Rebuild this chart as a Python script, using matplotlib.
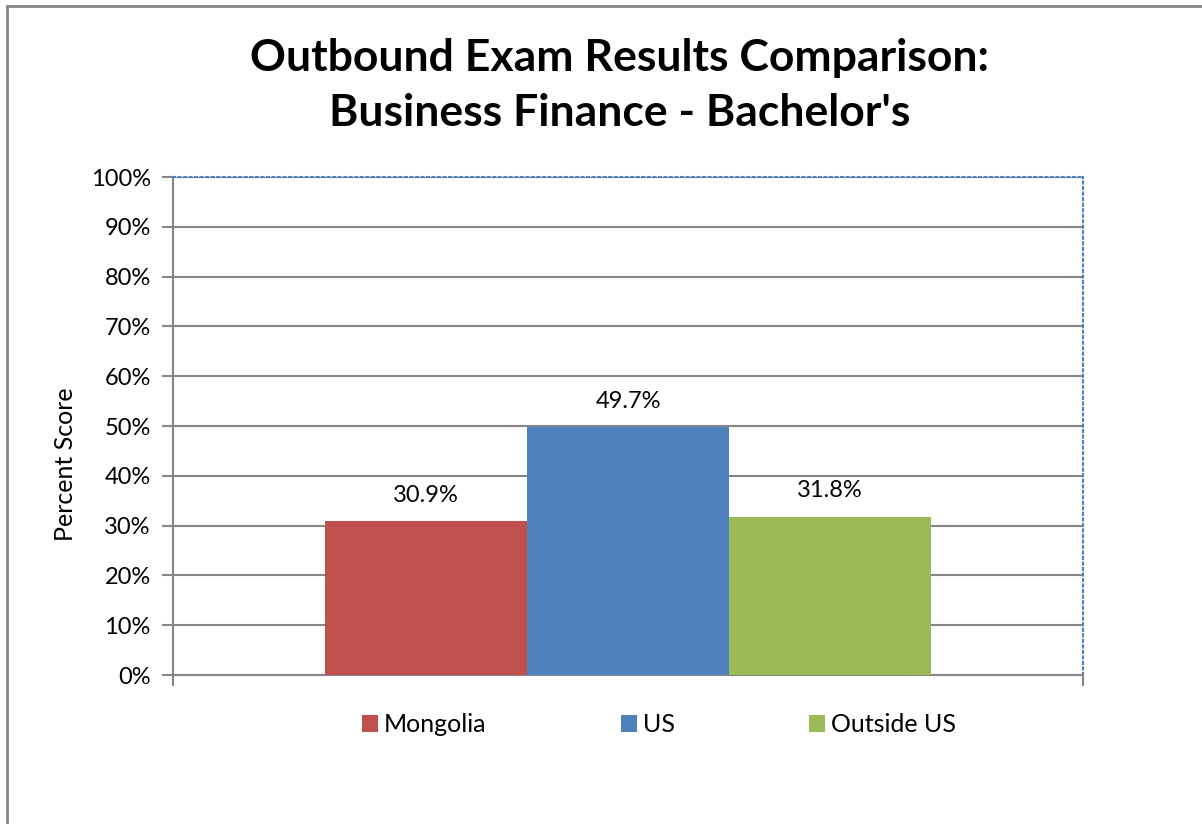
import matplotlib.pyplot as plt
from matplotlib.patches import Rectangle

# chart data
series = ["Mongolia", "US", "Outside US"]
scores = [30.9, 49.7, 31.8]
colors = ["#C0504D", "#4F81BD", "#9BBB59"]
yticks = [0, 10, 20, 30, 40, 50, 60, 70, 80, 90, 100]

plt.rcParams['font.family'] = ['Lato', 'DejaVu Sans']

fig = plt.figure(figsize=(12.02, 8.24), dpi=100)
ax = fig.add_axes([173/1202, 1 - 675/824, 910/1202, 498/824])

# outer chart frame (only left/top visible in the reference)
fig.patches.append(Rectangle((7/1202, -0.1), 1.5, 1 - 6/824 + 0.1,
                             transform=fig.transFigure, fill=False,
                             edgecolor="#868686", linewidth=2))

w = 2 / 9
for i, (name, val, c) in enumerate(zip(series, scores, colors)):
    x = (i - 1) * w
    ax.bar(x, val, width=w, color=c, label=name, zorder=3)
    ax.annotate(f"{val:.1f}%", (x, val), xytext=(0, 11), textcoords="offset points",
                ha="center", va="bottom", fontsize=17)

ax.set_xlim(-0.5, 0.5)
ax.set_ylim(0, 100)
ax.set_yticks(yticks)
ax.set_yticklabels([f"{t}%" for t in yticks], fontsize=17)
ax.set_xticks([-0.5, 0.5])
ax.set_xticklabels(["", ""])
ax.tick_params(axis="y", length=8, width=1.5, color="#868686", pad=8)
ax.tick_params(axis="x", length=8, width=1.5, color="#868686", direction="out")
ax.grid(axis="y", color="#868686", linewidth=1.5, zorder=0)

for s in ["left", "bottom"]:
    ax.spines[s].set_color("#868686")
    ax.spines[s].set_linewidth(1.5)
for s in ["top", "right"]:
    ax.spines[s].set_color("#4F81BD")
    ax.spines[s].set_linestyle(":")
    ax.spines[s].set_linewidth(1.5)

ax.set_ylabel("Percent Score", fontsize=18)
ax.yaxis.set_label_coords(-0.106, 0.424)

fig.text(620/1202, 1 - 58/824, "Outbound Exam Results Comparison:", ha="center", va="center",
         fontsize=32, fontweight="bold")
fig.text(620/1202, 1 - 113/824, "Business Finance - Bachelor's", ha="center", va="center",
         fontsize=32, fontweight="bold")

ax.legend(loc="center", bbox_to_anchor=(659/1202, 1 - 725/824), bbox_transform=fig.transFigure,
          ncol=3, frameon=False, fontsize=18, handlelength=0.65, handleheight=0.65,
          handletextpad=0.25, columnspacing=5.35)

fig.savefig("out.png", dpi=100)
